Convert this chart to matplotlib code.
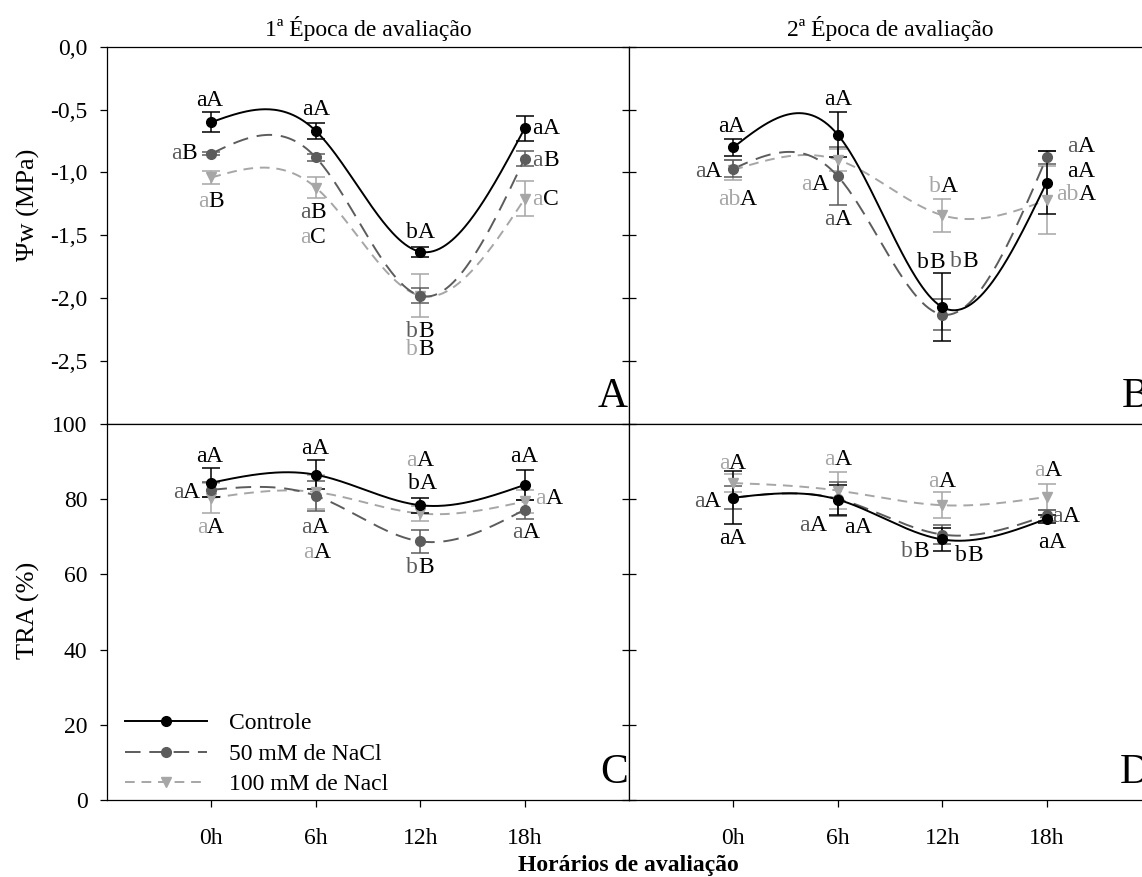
import numpy as np
import matplotlib
matplotlib.use("Agg")
import matplotlib.pyplot as plt
from matplotlib.lines import Line2D

plt.rcParams['font.family'] = ['Liberation Serif', 'DejaVu Serif']

# dados
horarios = ["0h", "6h", "12h", "18h"]
tratamentos = ["Controle", "50 mM de NaCl", "100 mM de Nacl"]

# potencial hidrico (MPa) - 1a epoca
psi1_ctrl = [-0.60, -0.67, -1.63, -0.65]
psi1_ctrl_err = [0.08, 0.065, 0.04, 0.10]
psi1_50 = [-0.85, -0.88, -1.98, -0.89]
psi1_50_err = [0.01, 0.03, 0.06, 0.06]
psi1_100 = [-1.04, -1.12, -1.98, -1.21]
psi1_100_err = [0.05, 0.08, 0.17, 0.14]

# potencial hidrico (MPa) - 2a epoca
psi2_ctrl = [-0.80, -0.70, -2.07, -1.08]
psi2_ctrl_err = [0.07, 0.18, 0.27, 0.25]
psi2_50 = [-0.97, -1.03, -2.13, -0.88]
psi2_50_err = [0.07, 0.23, 0.12, 0.05]
psi2_100 = [-0.98, -0.90, -1.34, -1.22]
psi2_100_err = [0.08, 0.09, 0.13, 0.27]

# TRA (%) - 1a epoca
tra1_ctrl = [84.4, 86.5, 78.4, 83.8]
tra1_ctrl_err = [3.9, 3.8, 2.0, 4.0]
tra1_50 = [82.5, 80.9, 68.8, 77.2]
tra1_50_err = [2.0, 4.0, 3.0, 2.5]
tra1_100 = [80.3, 81.9, 76.2, 79.4]
tra1_100_err = [4.0, 4.5, 2.0, 3.0]

# TRA (%) - 2a epoca
tra2_ctrl = [80.4, 79.9, 69.3, 74.8]
tra2_ctrl_err = [7.0, 4.0, 3.0, 1.0]
tra2_50 = [80.4, 80.1, 70.6, 75.7]
tra2_50_err = [3.0, 4.5, 2.5, 1.5]
tra2_100 = [84.3, 82.3, 78.4, 80.6]
tra2_100_err = [2.5, 5.0, 3.5, 3.5]

# letras do teste de medias
let_psi1_ctrl = ["aA", "aA", "bA", "aA"]
let_psi1_50 = ["aB", "aB", "bB", "aB"]
let_psi1_100 = ["aB", "aC", "bB", "aC"]
let_psi2_ctrl = ["aA", "aA", "bB", "aA"]
let_psi2_50 = ["aA", "aA", "bB", "aA"]
let_psi2_100 = ["abA", "aA", "bA", "abA"]
let_tra1_ctrl = ["aA", "aA", "bA", "aA"]
let_tra1_50 = ["aA", "aA", "bB", "aA"]
let_tra1_100 = ["aA", "aA", "aA", "aA"]
let_tra2_ctrl = ["aA", "aA", "bB", "aA"]
let_tra2_50 = ["aA", "aA", "bB", "aA"]
let_tra2_100 = ["aA", "aA", "aA", "aA"]

# deslocamento das letras em pixels (dx, dy)
off_psi1 = [[(-2, 22), (0, 21), (0, 19), (21, 0)],
            [(-27, 0), (-3, -55), (0, -36), (21, -2)],
            [(0, -24), (-3, -50), (0, -54), (21, -1)]]
off_psi2 = [[(-2, 21), (0, 35), (-11, 45), (34, 11)],
            [(-25, -3), (0, -43), (22, 53), (34, 11)],
            [(4, -30), (-23, -25), (1, 29), (29, 6)]]
off_tra1 = [[(-2, 26), (-1, 26), (2, 22), (-1, 28)],
            [(-25, -3), (-1, -32), (0, -26), (1, -23)],
            [(-1, -29), (1, -60), (0, 53), (24, 3)]]
off_tra2 = [[(-1, -41), (20, -28), (27, -16), (5, -24)],
            [(-26, -4), (-25, -27), (-27, -17), (19, -1)],
            [(-1, 20), (0, 31), (0, 24), (1, 26)]]

cores = ['black', '#5c5c5c', '#a6a6a6']
estilos = ['-', (0, (8, 4.5)), (0, (5, 3.5))]
marcas = ['o', 'o', 'v']
FS = 17


def spline(y, n=200):
    # spline cubica natural com espacamento unitario
    y = np.asarray(y, float)
    k = len(y)
    A = np.zeros((k, k))
    b = np.zeros(k)
    A[0, 0] = A[-1, -1] = 1
    for i in range(1, k - 1):
        A[i, i - 1], A[i, i], A[i, i + 1] = 1, 4, 1
        b[i] = 6 * (y[i + 1] - 2 * y[i] + y[i - 1])
    M = np.linalg.solve(A, b)
    xs = np.linspace(0, k - 1, n)
    ys = []
    for x in xs:
        i = min(int(x), k - 2)
        t = x - i
        v = (1 - t) * y[i] + t * y[i + 1] \
            + ((1 - t) ** 3 - (1 - t)) * M[i] / 6 + (t ** 3 - t) * M[i + 1] / 6
        ys.append(v)
    return xs, np.array(ys)


def letra(ax, x, y, txt, cor, dx, dy):
    low = ''.join(c for c in txt if c.islower())
    up = ''.join(c for c in txt if c.isupper())
    t0 = ax.annotate(txt, (x, y), xytext=(dx, dy), textcoords='offset pixels',
                     ha='center', va='center', fontsize=FS, alpha=0)
    t1 = ax.annotate(low, xy=(0, 0), xycoords=t0, ha='left', va='bottom',
                     fontsize=FS, color=cor)
    ax.annotate(up, xy=(1, 0), xycoords=t1, ha='left', va='bottom',
                fontsize=FS, color='black')


def painel(ax, series, erros, letras, offs):
    x = np.arange(len(horarios))
    for j in [2, 1, 0]:
        xs, ys = spline(series[j])
        ax.plot(xs, ys, color=cores[j], ls=estilos[j], lw=1.4, zorder=3 - j + 2)
        ax.errorbar(x, series[j], yerr=erros[j], fmt='none', ecolor=cores[j],
                    elinewidth=1.1, capsize=6.5, capthick=1.1, zorder=3 - j + 2)
        ax.plot(x, series[j], ls='none', marker=marcas[j], ms=7, color=cores[j],
                mec=cores[j], zorder=3 - j + 6)
        for i in range(len(x)):
            letra(ax, x[i], series[j][i], letras[j][i], cores[j], *offs[j][i])
    ax.set_xlim(-1, 4)
    ax.set_xticks(x)
    for s in ax.spines.values():
        s.set_linewidth(0.9)


W, H = 1142, 877
fig = plt.figure(figsize=(W / 100, H / 100), dpi=100)
lx1, lx2, aw = 107 / W, 629 / W, 522 / W
ytop, ymid, ybot = 46.7, 424, 800
axA = fig.add_axes([lx1, 1 - ymid / H, aw, (ymid - ytop) / H])
axB = fig.add_axes([lx2, 1 - ymid / H, aw, (ymid - ytop) / H])
axC = fig.add_axes([lx1, 1 - ybot / H, aw, (ybot - ymid) / H])
axD = fig.add_axes([lx2, 1 - ybot / H, aw, (ybot - ymid) / H])

painel(axA, [psi1_ctrl, psi1_50, psi1_100], [psi1_ctrl_err, psi1_50_err, psi1_100_err],
       [let_psi1_ctrl, let_psi1_50, let_psi1_100], off_psi1)
painel(axB, [psi2_ctrl, psi2_50, psi2_100], [psi2_ctrl_err, psi2_50_err, psi2_100_err],
       [let_psi2_ctrl, let_psi2_50, let_psi2_100], off_psi2)
painel(axC, [tra1_ctrl, tra1_50, tra1_100], [tra1_ctrl_err, tra1_50_err, tra1_100_err],
       [let_tra1_ctrl, let_tra1_50, let_tra1_100], off_tra1)
painel(axD, [tra2_ctrl, tra2_50, tra2_100], [tra2_ctrl_err, tra2_50_err, tra2_100_err],
       [let_tra2_ctrl, let_tra2_50, let_tra2_100], off_tra2)

psi_ticks = [0, -0.5, -1.0, -1.5, -2.0, -2.5]
for ax in (axA, axB):
    ax.set_ylim(-3.0, 0)
    ax.set_yticks(psi_ticks)
    ax.set_xticklabels([])
for ax in (axC, axD):
    ax.set_ylim(0, 100)
    ax.set_yticks([0, 20, 40, 60, 80, 100])
    ax.set_xticklabels(horarios, fontsize=FS)

axA.set_yticklabels([f"{v:.1f}".replace('.', ',') for v in psi_ticks], fontsize=FS)
axC.set_yticklabels(["0", "20", "40", "60", "80", "100"], fontsize=FS)
for ax in (axA, axC):
    ax.tick_params(axis='y', direction='out', length=5, width=0.9, pad=9)
for ax in (axB, axD):
    ax.set_yticklabels([])
    ax.tick_params(axis='y', direction='inout', length=10, width=0.9)
for ax in (axA, axB, axC, axD):
    ax.tick_params(axis='x', direction='out', length=5, width=0.9, pad=15)

axA.set_title("1ª Época de avaliação", fontsize=FS, pad=8)
axB.set_title("2ª Época de avaliação", fontsize=FS, pad=8)

fig.text(28 / W, 1 - 205 / H, "Ψw (MPa)", rotation=90, ha='center', va='center', fontsize=19)
fig.text(28 / W, 1 - 610 / H, "TRA (%)", rotation=90, ha='center', va='center', fontsize=19)
fig.text(628 / W, 1 - 866 / H, "Horários de avaliação", ha='center', va='center',
         fontsize=17, fontweight='bold')

for ax, lt in zip((axA, axB, axC, axD), "ABCD"):
    ax.text(0.998, 0.02, lt, transform=ax.transAxes, ha='right', va='bottom', fontsize=30)

handles = [Line2D([], [], color=cores[j], ls=estilos[j], lw=1.4, marker=marcas[j], ms=7)
           for j in range(3)]
axC.legend(handles, tratamentos, loc='lower left', bbox_to_anchor=(0.035, 0.012),
           frameon=False, fontsize=FS, handlelength=3.45, handletextpad=0.95,
           labelspacing=0.38, borderpad=0, borderaxespad=0)

fig.savefig("out.png", dpi=100)
